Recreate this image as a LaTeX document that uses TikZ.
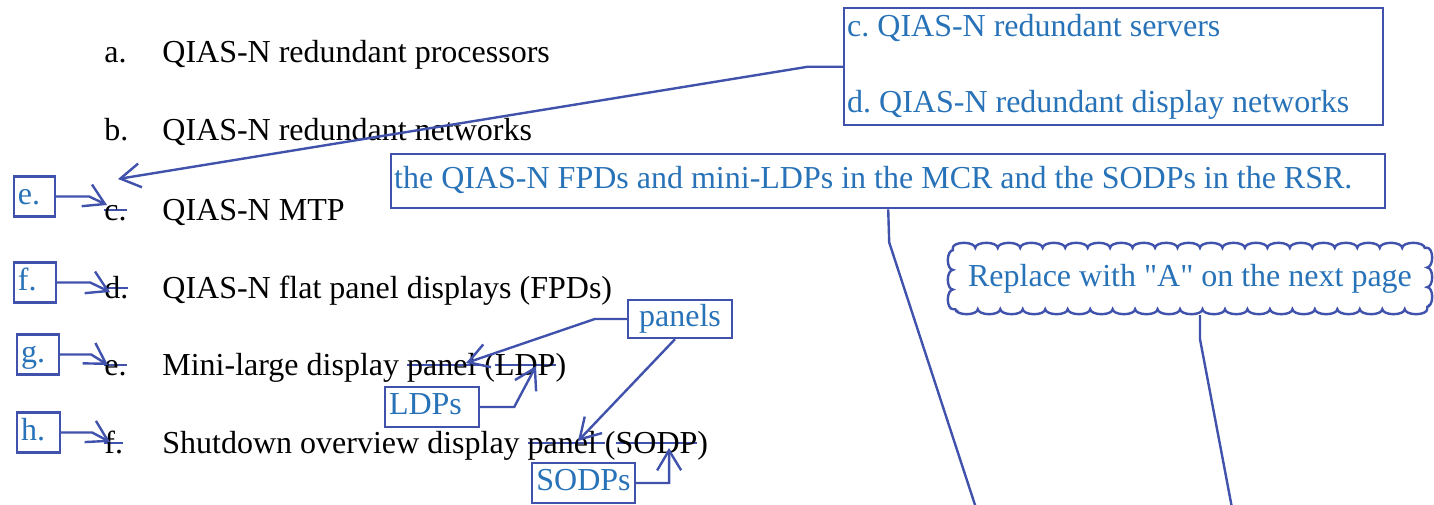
\documentclass[tikz,border=0pt]{standalone}
\usepackage{fontspec}
\setmainfont{Liberation Serif}
\usetikzlibrary{arrows.meta,decorations.pathmorphing}
\definecolor{markup}{RGB}{64,82,172}
\definecolor{notetext}{RGB}{40,114,184}
\newsavebox{\strikebox}
\newcommand{\struck}[1]{\sbox{\strikebox}{#1}\rlap{\textcolor{markup}{\rule[0.27em]{\wd\strikebox}{1.2pt}}}\usebox{\strikebox}}
\newcommand{\leftin}[2]{\makebox[#1][l]{#2}}

\begin{document}
\frenchspacing
\begin{tikzpicture}[
    x=0.5pt, y=-0.5pt,
    item/.style={
        anchor=base west,
        inner sep=0pt,
        font=\fontsize{16}{19}\selectfont
    },
    note/.style={
        draw=markup,
        line width=1.2pt,
        text=notetext,
        inner sep=1.5pt,
        font=\fontsize{16}{19}\selectfont
    },
    oneline/.style={note, text height=11pt, text depth=3.5pt},
    tag/.style={oneline, inner xsep=2pt, minimum height=20pt},
    link/.style={draw=markup, line width=1.2pt, -{Straight Barb[length=10pt,width=12pt]}},
    plain/.style={draw=markup, line width=1.2pt},
    longside/.style={decoration={bumps, segment length=22.47pt, amplitude=2.5pt}},
    shortside/.style={decoration={bumps, segment length=19.67pt, amplitude=2.5pt}}
]
\useasboundingbox (0,0) rectangle (1434,504);

%==========================
% list
%==========================
\node[item] (la) at (104,62)  {a.};
\node[item] (ta) at (162,62)  {QIAS-N redundant processors};
\node[item] (lb) at (104,140) {b.};
\node[item] (tb) at (162,140) {QIAS-N redundant networks};
\node[item] (lc) at (104,220) {\struck{c.}};
\node[item] (tc) at (162,220) {QIAS-N MTP};
\node[item] (ld) at (104,298) {\struck{d.}};
\node[item] (td) at (162,298) {QIAS-N flat panel displays (FPDs)};
\node[item] (le) at (104,375) {\struck{e.}};
\node[item] (te) at (162,375) {Mini-large display \struck{panel }(\struck{LDP})};
\node[item] (lf) at (104,453) {\struck{f.}};
\node[item] (tf) at (162,453) {Shutdown overview display \struck{panel }(\struck{SODP})};

%==========================
% new letters
%==========================
\node[tag] (tagE) at (34.5,196.5) {\leftin{16.5pt}{e.}};
\node[tag] (tagF) at (35,282.5)   {\leftin{17pt}{f.}};
\node[tag] (tagG) at (38,354.5)   {\leftin{17pt}{g.}};
\node[tag] (tagH) at (38.5,432.5) {\leftin{17.5pt}{h.}};

\coordinate (insC) at (107,205);
\coordinate (insD) at (110,292);
\coordinate (insE) at (108,365);
\coordinate (insF) at (110,442);
\draw[link] (tagE.east) -- ++(33,0) -- (insC);
\draw[link] (tagF.east) -- ++(33,0) -- (insD);
\draw[link] (tagG.east) -- ++(31,0) -- (insE);
\draw[link] (tagH.east) -- ++(31,0) -- (insF);

%==========================
% inserted items
%==========================
\node[note, anchor=north west, inner ysep=0pt, minimum height=58.5pt] (srvbox) at (843,7)
{\leftin{266.5pt}{\begin{tabular}{@{}l@{}}c. QIAS-N redundant servers\\[19pt]d. QIAS-N redundant display networks\end{tabular}}};
\coordinate (insB) at (118,179);
\draw[link] (srvbox.west) -- ++(-35,0) -- (insB);

\node[oneline, anchor=north west, minimum height=27pt] (fpdbox) at (390,153)
{\leftin{494pt}{the QIAS-N FPDs and mini-LDPs in the MCR and the SODPs in the RSR.}};
\coordinate (fpdend) at (976,508);
\draw[plain] (fpdbox.south) -- ++(1,33) -- (fpdend);

%==========================
% panels / LDPs / SODPs
%==========================
\node[oneline, minimum width=52pt, minimum height=19pt]   (panels) at (680,319)   {panels};
\node[oneline, minimum width=47pt, minimum height=20pt]   (ldps)   at (432,407)   {\leftin{43pt}{LDPs}};
\node[oneline, minimum width=51.5pt, minimum height=20pt] (sodps)  at (583.5,483) {SODPs};

\coordinate (insPanelE) at (466,363);
\coordinate (insLDP)    at (536,366);
\coordinate (insPanelF) at (578,441);
\coordinate (insSODP)   at (669,448);
\draw[link] (panels.west) -- ++(-32,0) -- (insPanelE);
\draw[link] ([xshift=-2.5pt]panels.south) -- (insPanelF);
\draw[link] (ldps.east) -- ++(34,0) -- (insLDP);
\draw[link] (sodps.east) -- ++(33,0) -- (insSODP);

%==========================
% cloud note
%==========================
\node[oneline, draw=none, inner sep=0pt, minimum width=236pt, minimum height=29.5pt] (cloudnote) at (1190,278.5)
{Replace with \textquotedbl A\textquotedbl{} on the next page};
\draw[plain]
    (cloudnote.north west)
    decorate[longside]  {-- (cloudnote.north east)}
    decorate[shortside] {-- (cloudnote.south east)}
    decorate[longside]  {-- (cloudnote.south west)}
    decorate[shortside] {-- (cloudnote.north west)};
\coordinate (cloudend) at (1232,508);
\draw[plain] ([xshift=5pt,yshift=-3pt]cloudnote.south) -- ++(0,24) -- (cloudend);

\end{tikzpicture}
\end{document}
